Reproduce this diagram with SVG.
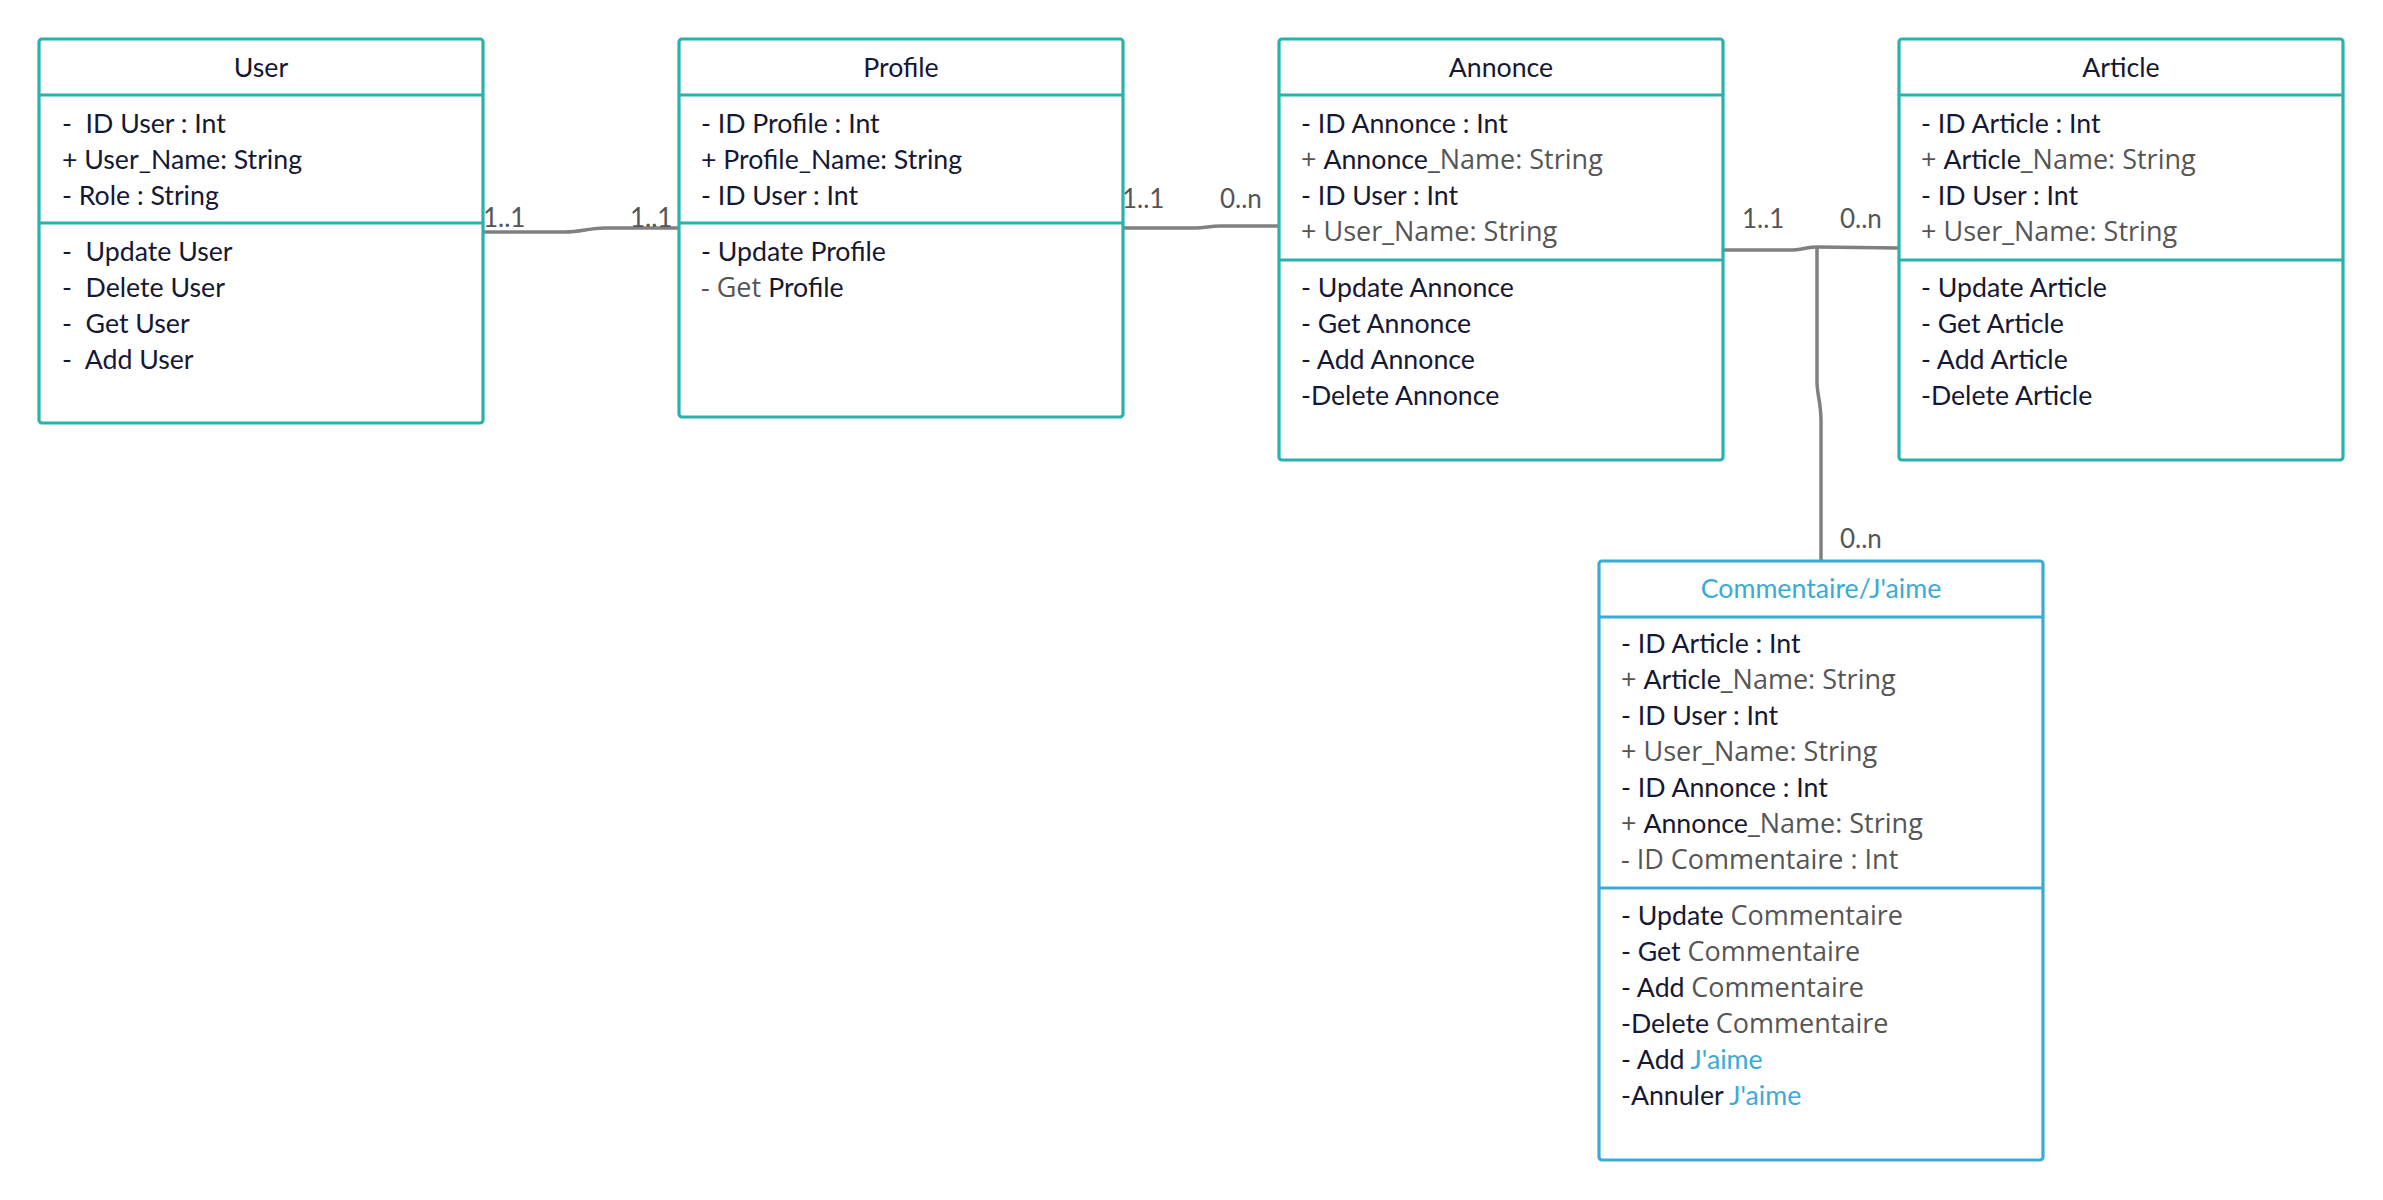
<svg xmlns="http://www.w3.org/2000/svg" width="2383" height="1200" viewBox="0 0 2383 1200">
<style>
text{font-family:Lato,"Open Sans","Liberation Sans",sans-serif;font-size:26.7px;fill:#151834;white-space:pre}
.t{text-anchor:middle}
.g{fill:#555555;font-family:"Open Sans","Noto Sans","Liberation Sans",sans-serif;font-size:27px}
.b{fill:#3AAAD6}
.box{fill:#fff;stroke:#29B1AE;stroke-width:3.2}
.boxb{fill:#fff;stroke:#3AAAD6;stroke-width:3.2}
.sep{stroke:#29B1AE;stroke-width:3.2}
.sepb{stroke:#3AAAD6;stroke-width:3.2}
.c{fill:none;stroke:#808080;stroke-width:3.5}
.lbl{fill:#555555;font-size:26px}
</style>
<rect width="2383" height="1200" fill="#fff"/>
<g id="connectors">
<path class="c" d="M483,232 L565,232 C580,232 590,228 605,228 L679,228"/>
<path class="c" d="M1123,228 L1195,228 C1205,228 1210,226 1220,226 L1279,226"/>
<path class="c" d="M1723,250 L1790,250 C1800,250 1808,247 1817,247 L1899,248"/>
<path class="c" d="M1817,247 L1817,383 C1817,392 1821,405 1821,420 L1821,561"/>
<text class="lbl" x="483" y="227">1..1</text>
<text class="lbl" x="630" y="227">1..1</text>
<text class="lbl" x="1122" y="208">1..1</text>
<text class="lbl" x="1220" y="208">0..n</text>
<text class="lbl" x="1742" y="228">1..1</text>
<text class="lbl" x="1840" y="228">0..n</text>
<text class="lbl" x="1840" y="548">0..n</text>
</g>
<g id="user">
<rect class="box" x="39" y="39" width="444" height="384" rx="3"/>
<line class="sep" x1="39" y1="95" x2="483" y2="95"/>
<line class="sep" x1="39" y1="223" x2="483" y2="223"/>
<text class="t" x="261" y="77">User</text>
<text x="62" y="133">-  ID User : Int</text>
<text x="62" y="169">+ User_Name: String</text>
<text x="62" y="205">- Role : String</text>
<text x="62" y="261">-  Update User</text>
<text x="62" y="297">-  Delete User</text>
<text x="62" y="333">-  Get User</text>
<text x="62" y="369">-  Add User</text>
</g>
<g id="profile">
<rect class="box" x="679" y="39" width="444" height="378" rx="3"/>
<line class="sep" x1="679" y1="95" x2="1123" y2="95"/>
<line class="sep" x1="679" y1="223" x2="1123" y2="223"/>
<text class="t" x="901" y="77">Profile</text>
<text x="701" y="133">- ID Profile : Int</text>
<text x="701" y="169">+ Profile_Name: String</text>
<text x="701" y="205">- ID User : Int</text>
<text x="701" y="261">- Update Profile</text>
<text x="701" y="297"><tspan class="g">- Get </tspan>Profile</text>
</g>
<g id="annonce">
<rect class="box" x="1279" y="39" width="444" height="421" rx="3"/>
<line class="sep" x1="1279" y1="95" x2="1723" y2="95"/>
<line class="sep" x1="1279" y1="260" x2="1723" y2="260"/>
<text class="t" x="1501" y="77">Annonce</text>
<text x="1301" y="133">- ID Annonce : Int</text>
<text x="1301" y="169"><tspan class="g">+ </tspan>Annonce<tspan class="g">_Name: String</tspan></text>
<text x="1301" y="205">- ID User : Int</text>
<text x="1301" y="241" class="g">+ User_Name: String</text>
<text x="1301" y="297">- Update Annonce</text>
<text x="1301" y="333">- Get Annonce</text>
<text x="1301" y="369">- Add Annonce</text>
<text x="1301" y="405">-Delete Annonce</text>
</g>
<g id="article">
<rect class="box" x="1899" y="39" width="444" height="421" rx="3"/>
<line class="sep" x1="1899" y1="95" x2="2343" y2="95"/>
<line class="sep" x1="1899" y1="260" x2="2343" y2="260"/>
<text class="t" x="2121" y="77">Article</text>
<text x="1921" y="133">- ID Article : Int</text>
<text x="1921" y="169"><tspan class="g">+ </tspan>Article<tspan class="g">_Name: String</tspan></text>
<text x="1921" y="205">- ID User : Int</text>
<text x="1921" y="241" class="g">+ User_Name: String</text>
<text x="1921" y="297">- Update Article</text>
<text x="1921" y="333">- Get Article</text>
<text x="1921" y="369">- Add Article</text>
<text x="1921" y="405">-Delete Article</text>
</g>
<g id="commentaire">
<rect class="boxb" x="1599" y="561" width="444" height="599" rx="3"/>
<line class="sepb" x1="1599" y1="617" x2="2043" y2="617"/>
<line class="sepb" x1="1599" y1="888" x2="2043" y2="888"/>
<text class="t b" x="1821" y="598">Commentaire/J'aime</text>
<text x="1621" y="653">- ID Article : Int</text>
<text x="1621" y="689"><tspan class="g">+ </tspan>Article<tspan class="g">_Name: String</tspan></text>
<text x="1621" y="725">- ID User : Int</text>
<text x="1621" y="761" class="g">+ User_Name: String</text>
<text x="1621" y="797">- ID Annonce : Int</text>
<text x="1621" y="833"><tspan class="g">+ </tspan>Annonce<tspan class="g">_Name: String</tspan></text>
<text x="1621" y="869" class="g">- ID Commentaire : Int</text>
<text x="1621" y="925">- Update <tspan class="g">Commentaire</tspan></text>
<text x="1621" y="961">- Get <tspan class="g">Commentaire</tspan></text>
<text x="1621" y="997">- Add <tspan class="g">Commentaire</tspan></text>
<text x="1621" y="1033">-Delete <tspan class="g">Commentaire</tspan></text>
<text x="1621" y="1069">- Add <tspan class="b">J'aime</tspan></text>
<text x="1621" y="1105">-Annuler <tspan class="b">J'aime</tspan></text>
</g>
</svg>
